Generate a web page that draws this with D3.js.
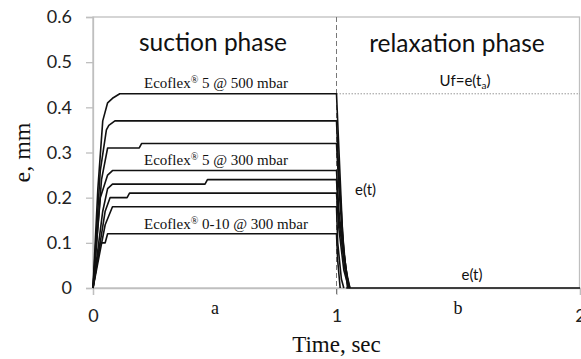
<!DOCTYPE html>
<html>
<head>
<meta charset="utf-8">
<script src="https://cdn.jsdelivr.net/npm/d3@7"></script>
<style>
  body { margin: 0; background: #fff; }
  svg { display: block; }
</style>
</head>
<body>
<div id="chart-area"></div>
<script>
// curves: [time (s), e (mm)]
const curve43 = [[0, 0], [0.02, 0.22], [0.04, 0.37], [0.06, 0.41], [0.08, 0.42], [0.11, 0.43], [1.0, 0.43], [1.008, 0.33], [1.025, 0.12], [1.045, 0]];
const curve37 = [[0, 0], [0.03, 0.26], [0.055, 0.35], [0.065, 0.36], [0.09, 0.37], [1.0, 0.37], [1.008, 0.27], [1.03, 0.08], [1.05, 0]];
const curve32 = [[0, 0], [0.035, 0.24], [0.06, 0.31], [0.19, 0.31], [0.2, 0.32], [1.0, 0.32], [1.01, 0.22], [1.03, 0.08], [1.05, 0]];
const curve26 = [[0, 0], [0.03, 0.2], [0.06, 0.25], [0.08, 0.26], [1.0, 0.26], [1.01, 0.17], [1.035, 0.05], [1.055, 0]];
const curve24 = [[0, 0], [0.04, 0.17], [0.06, 0.22], [0.08, 0.23], [0.46, 0.23], [0.47, 0.24], [1.0, 0.24], [1.01, 0.15], [1.035, 0.04], [1.055, 0]];
const curve21 = [[0, 0], [0.05, 0.17], [0.07, 0.2], [0.14, 0.2], [0.15, 0.21], [1.0, 0.21], [1.01, 0.13], [1.03, 0.04], [1.05, 0]];
const curve18 = [[0, 0], [0.05, 0.14], [0.065, 0.16], [0.08, 0.18], [1.0, 0.18], [1.005, 0.1], [1.02, 0.02], [1.03, 0]];
const curve12 = [[0, 0], [0.03, 0.1], [0.05, 0.1], [0.06, 0.12], [1.0, 0.12], [1.005, 0.06], [1.015, 0]];
const restLine = [[1.04, 0], [2, 0]];
const curves = [curve43, curve37, curve32, curve26, curve24, curve21, curve18, curve12, restLine];

const xTicks = [0, 1, 2];
const yTicks = [0, 0.1, 0.2, 0.3, 0.4, 0.5, 0.6];
const phaseEnd = 1;
const ufLevel = 0.43;

const width = 581;
const height = 359;
const padding = { left: 93, right: 1, top: 17, bottom: 71 };
const grey = '#bfbfbf';

const xScale = d3.scaleLinear().domain([0, 2]).range([padding.left, width - padding.right]);
const yScale = d3.scaleLinear().domain([0, 0.6]).range([height - padding.bottom, padding.top]);

const chart = d3.select('#chart-area').append('svg')
  .attr('width', width).attr('height', height);

// frame
chart.append('rect')
  .attr('x', xScale(0)).attr('y', yScale(0.6))
  .attr('width', xScale(2) - xScale(0) - 0.5).attr('height', yScale(0) - yScale(0.6))
  .attr('fill', 'none').attr('stroke', grey).attr('stroke-width', 1.3);

//axes
const yAxis = chart.append('g')
  .attr('transform', `translate(${xScale(0)},0)`)
  .call(d3.axisLeft(yScale).tickValues(yTicks).tickSize(7).tickPadding(14).tickFormat(d => d === 0 ? '0' : d3.format('.1f')(d)));
const xAxis = chart.append('g')
  .attr('transform', `translate(0,${yScale(0)})`)
  .call(d3.axisBottom(xScale).tickValues(xTicks).tickSize(7).tickPadding(14).tickFormat(d3.format('d')));
[yAxis, xAxis].forEach(a => {
  a.select('.domain').attr('stroke', grey).attr('stroke-width', 1.3);
  a.selectAll('.tick line').attr('stroke', grey).attr('stroke-width', 1.3);
  a.selectAll('.tick text').attr('fill', '#222')
    .style('font-family', 'Lato, "Open Sans", sans-serif').style('font-size', '18px');
});

// phase separator and Uf level
chart.append('line')
  .attr('x1', xScale(phaseEnd)).attr('x2', xScale(phaseEnd))
  .attr('y1', yScale(0.6)).attr('y2', yScale(0) + 7)
  .attr('stroke', '#777').attr('stroke-width', 1).attr('stroke-dasharray', '5,3');
chart.append('line')
  .attr('x1', xScale(phaseEnd)).attr('x2', xScale(2))
  .attr('y1', yScale(ufLevel)).attr('y2', yScale(ufLevel))
  .attr('stroke', '#999').attr('stroke-width', 1).attr('stroke-dasharray', '1.5,1.5');

// curves
const line = d3.line().x(d => xScale(d[0])).y(d => yScale(d[1]));
chart.append('g').selectAll('path')
  .data(curves).enter().append('path')
  .attr('d', line)
  .attr('fill', 'none').attr('stroke', '#111').attr('stroke-width', 1.6)
  .attr('stroke-linejoin', 'round');

// texts
const sans = 'Lato, "Open Sans", sans-serif';
const serif = '"Liberation Serif", "DejaVu Serif", serif';
function label(x, y, txt, font, size, anchor) {
  return chart.append('text')
    .attr('x', x).attr('y', y)
    .attr('text-anchor', anchor || 'middle')
    .style('font-family', font).style('font-size', size + 'px')
    .attr('fill', '#111').text(txt);
}
label(213, 51, 'suction phase', sans, 24.5);
label(457, 52, 'relaxation phase', sans, 24.5);

const uf = label(465, 86, 'Uf=e(t', sans, 15);
uf.append('tspan').attr('dy', 3).style('font-size', '10px').text('a');
uf.append('tspan').attr('dy', -3).text(')');

function eco(x, y, rest) {
  const t = label(x, y, 'Ecoflex', serif, 15);
  t.append('tspan').attr('dy', -5).style('font-size', '10px').text('®');
  t.append('tspan').attr('dy', 5).text(rest);
}
eco(216, 88, ' 5 @ 500 mbar');
eco(216, 165, ' 5 @ 300 mbar');
eco(226, 229, ' 0-10 @ 300 mbar');

label(355, 195, 'e(t)', sans, 15, 'start');
label(472, 280, 'e(t)', sans, 15);
label(215, 314, 'a', serif, 18);
label(458, 314, 'b', serif, 18);

label(xScale(1), 352, 'Time, sec', serif, 23);
label(0, 0, 'e, mm', serif, 24)
  .attr('transform', `translate(30,${(yScale(0) + yScale(0.6)) / 2}) rotate(-90)`);
</script>
</body>
</html>
